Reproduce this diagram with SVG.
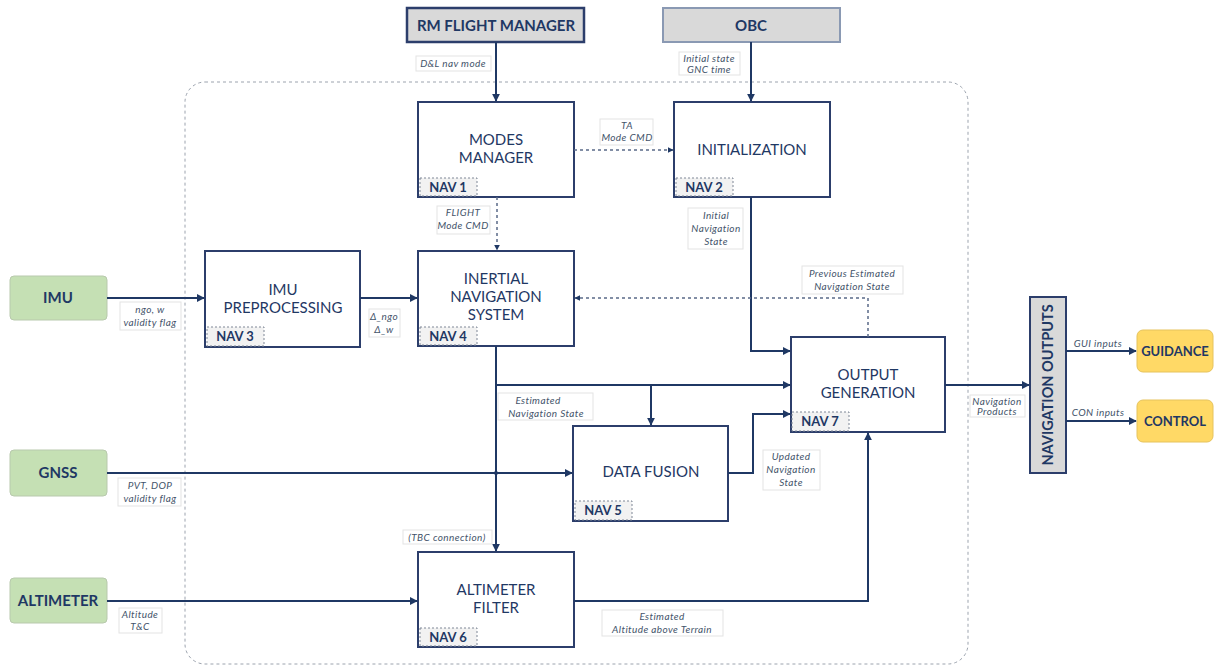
<svg xmlns="http://www.w3.org/2000/svg" width="1215" height="666" viewBox="0 0 1215 666">
  <defs>
    <marker id="arr" viewBox="0 0 10 10" refX="9" refY="5" markerWidth="4" markerHeight="4" orient="auto">
      <path d="M0,0 L10,5 L0,10 z" fill="#1f3864"/>
    </marker>
    <style>
      .blk { fill: #ffffff; stroke: #2c3e6b; stroke-width: 2; }
      .tag { fill: #f2f2f2; stroke: #7f8796; stroke-width: 1; stroke-dasharray: 2 2; }
      .ttl { font-family: Lato, "Open Sans", sans-serif; font-size: 15px; fill: #1f3864; text-anchor: middle; }
      .tagt { font-family: Lato, "Open Sans", sans-serif; font-size: 13px; font-weight: bold; fill: #1f3864; text-anchor: middle; }
      .ext { font-family: Lato, "Open Sans", sans-serif; font-size: 15px; font-weight: bold; fill: #1f3864; text-anchor: middle; }
      .ext-s { font-family: Lato, "Open Sans", sans-serif; font-size: 13px; font-weight: bold; fill: #1f3864; text-anchor: middle; }
      .lbl { font-family: Lato, "Open Sans", sans-serif; font-size: 10px; font-style: italic; fill: #44546a; text-anchor: middle; letter-spacing: 0.4px; }
      .lblbox { fill: #ffffff; stroke: #e3e3e3; stroke-width: 1; }
      .ln { fill: none; stroke: #1f3864; stroke-width: 2; }
      .dln { fill: none; stroke: #5a6a88; stroke-width: 1.5; stroke-dasharray: 3 3; }
    </style>
  </defs>

  <!-- navigation subsystem boundary -->
  <rect x="185" y="82" width="783" height="582" rx="20" fill="none" stroke="#9ca3ae" stroke-width="1" stroke-dasharray="3 3"/>

  <!-- external sources and sinks -->
  <g id="rm-flight-manager">
    <rect x="407" y="8" width="177" height="34" fill="#d9d9d9" stroke="#2c3e6b" stroke-width="2.5"/>
    <text class="ext" x="496" y="31">RM FLIGHT MANAGER</text>
  </g>
  <g id="obc">
    <rect x="663" y="8" width="177" height="34" fill="#d9d9d9" stroke="#8a99b3" stroke-width="2"/>
    <text class="ext" x="751" y="31">OBC</text>
  </g>
  <g id="imu">
    <rect x="10" y="276" width="97" height="44" rx="4" fill="#c5e0b4" stroke="#b8c9ad" stroke-width="1"/>
    <text class="ext" x="58" y="303">IMU</text>
  </g>
  <g id="gnss">
    <rect x="10" y="450" width="97" height="46" rx="4" fill="#c5e0b4" stroke="#b8c9ad" stroke-width="1"/>
    <text class="ext" x="58" y="478">GNSS</text>
  </g>
  <g id="altimeter">
    <rect x="10" y="578" width="97" height="45" rx="4" fill="#c5e0b4" stroke="#b8c9ad" stroke-width="1"/>
    <text class="ext" x="58" y="606">ALTIMETER</text>
  </g>
  <g id="guidance">
    <rect x="1137" y="330" width="76" height="42" rx="6" fill="#ffd966" stroke="#e6c35c" stroke-width="1"/>
    <text class="ext-s" x="1175" y="356">GUIDANCE</text>
  </g>
  <g id="control">
    <rect x="1137" y="400" width="76" height="42" rx="6" fill="#ffd966" stroke="#e6c35c" stroke-width="1"/>
    <text class="ext-s" x="1175" y="426">CONTROL</text>
  </g>
  <g id="navigation-outputs">
    <rect x="1030" y="297" width="36" height="176" fill="#d9d9d9" stroke="#2c3e6b" stroke-width="2"/>
    <text class="ext" style="font-size:14.5px" x="0" y="0" transform="translate(1053,385) rotate(-90)">NAVIGATION OUTPUTS</text>
  </g>

  <!-- NAV blocks -->
  <g id="nav1-modes-manager">
    <rect class="blk" x="418" y="102" width="156" height="95"/>
    <text class="ttl" x="496" y="145">MODES</text>
    <text class="ttl" x="496" y="163">MANAGER</text>
    <rect class="tag" x="420" y="178" width="57" height="18"/>
    <text class="tagt" x="448" y="192">NAV 1</text>
  </g>
  <g id="nav2-initialization">
    <rect class="blk" x="674" y="102" width="156" height="95"/>
    <text class="ttl" x="752" y="155">INITIALIZATION</text>
    <rect class="tag" x="676" y="178" width="57" height="18"/>
    <text class="tagt" x="704" y="192">NAV 2</text>
  </g>
  <g id="nav3-imu-preprocessing">
    <rect class="blk" x="205" y="251" width="155" height="96"/>
    <text class="ttl" x="283" y="295">IMU</text>
    <text class="ttl" x="283" y="313">PREPROCESSING</text>
    <rect class="tag" x="207" y="327" width="57" height="19"/>
    <text class="tagt" x="235" y="341">NAV 3</text>
  </g>
  <g id="nav4-inertial-navigation-system">
    <rect class="blk" x="418" y="251" width="156" height="95"/>
    <text class="ttl" x="496" y="284">INERTIAL</text>
    <text class="ttl" x="496" y="302">NAVIGATION</text>
    <text class="ttl" x="496" y="320">SYSTEM</text>
    <rect class="tag" x="420" y="327" width="57" height="18"/>
    <text class="tagt" x="448" y="341">NAV 4</text>
  </g>
  <g id="nav5-data-fusion">
    <rect class="blk" x="573" y="426" width="155" height="95"/>
    <text class="ttl" x="651" y="477">DATA FUSION</text>
    <rect class="tag" x="575" y="501" width="57" height="19"/>
    <text class="tagt" x="603" y="515">NAV 5</text>
  </g>
  <g id="nav6-altimeter-filter">
    <rect class="blk" x="418" y="552" width="156" height="95"/>
    <text class="ttl" x="496" y="595">ALTIMETER</text>
    <text class="ttl" x="496" y="613">FILTER</text>
    <rect class="tag" x="420" y="628" width="57" height="18"/>
    <text class="tagt" x="448" y="642">NAV 6</text>
  </g>
  <g id="nav7-output-generation">
    <rect class="blk" x="791" y="337" width="154" height="95"/>
    <text class="ttl" x="868" y="380">OUTPUT</text>
    <text class="ttl" x="868" y="398">GENERATION</text>
    <rect class="tag" x="792" y="412" width="57" height="19"/>
    <text class="tagt" x="820" y="426">NAV 7</text>
  </g>

  <!-- connectors -->
  <g id="connectors">
    <path class="ln" d="M496,42 V101" marker-end="url(#arr)"/>
    <path class="ln" d="M751,42 V101" marker-end="url(#arr)"/>
    <path class="dln" d="M574,150 H673" marker-end="url(#arr)"/>
    <path class="dln" d="M497,197 V250" marker-end="url(#arr)"/>
    <path class="ln" d="M751,197 V351 H790" marker-end="url(#arr)"/>
    <path class="ln" d="M107,298 H204" marker-end="url(#arr)"/>
    <path class="ln" d="M360,298 H417" marker-end="url(#arr)"/>
    <path class="dln" d="M868,337 V298 H575" marker-end="url(#arr)"/>
    <path class="ln" d="M496,346 V385 H790" marker-end="url(#arr)"/>
    <path class="ln" d="M651,385 V425" marker-end="url(#arr)"/>
    <path class="ln" d="M496,385 V551" marker-end="url(#arr)"/>
    <path class="ln" d="M107,473 H572" marker-end="url(#arr)"/>
    <circle cx="496" cy="473" r="2" fill="#1f3864"/>
    <path class="ln" d="M728,473 H753 V414 H790" marker-end="url(#arr)"/>
    <path class="ln" d="M107,601 H417" marker-end="url(#arr)"/>
    <path class="ln" d="M574,601 H868 V433" marker-end="url(#arr)"/>
    <path class="ln" d="M945,385 H1029" marker-end="url(#arr)"/>
    <path class="ln" d="M1066,351 H1136" marker-end="url(#arr)"/>
    <path class="ln" d="M1066,421 H1136" marker-end="url(#arr)"/>
  </g>

  <!-- connector labels -->
  <g id="labels">
    <rect class="lblbox" x="416" y="56" width="75" height="15"/>
    <text class="lbl" x="453" y="67">D&amp;L nav mode</text>

    <rect class="lblbox" x="679" y="52" width="61" height="23"/>
    <text class="lbl" x="709" y="62">Initial state</text>
    <text class="lbl" x="709" y="73">GNC time</text>

    <rect class="lblbox" x="600" y="119" width="53" height="26"/>
    <text class="lbl" x="627" y="129">TA</text>
    <text class="lbl" x="627" y="141">Mode CMD</text>

    <rect class="lblbox" x="437" y="206" width="53" height="28"/>
    <text class="lbl" x="463" y="216">FLIGHT</text>
    <text class="lbl" x="463" y="229">Mode CMD</text>

    <rect class="lblbox" x="688" y="208" width="55" height="41"/>
    <text class="lbl" x="716" y="219">Initial</text>
    <text class="lbl" x="716" y="232">Navigation</text>
    <text class="lbl" x="716" y="245">State</text>

    <rect class="lblbox" x="120" y="302" width="61" height="28"/>
    <text class="lbl" x="150" y="313">ngo, w</text>
    <text class="lbl" x="150" y="326">validity flag</text>

    <rect class="lblbox" x="369" y="309" width="31" height="28"/>
    <text class="lbl" x="384" y="320">Δ_ngo</text>
    <text class="lbl" x="384" y="333">Δ_w</text>

    <rect class="lblbox" x="802" y="266" width="101" height="28"/>
    <text class="lbl" x="852" y="277">Previous Estimated</text>
    <text class="lbl" x="852" y="290">Navigation State</text>

    <rect class="lblbox" x="498" y="393" width="95" height="27"/>
    <text class="lbl" x="538" y="404">Estimated</text>
    <text class="lbl" x="546" y="417">Navigation State</text>

    <rect class="lblbox" x="118" y="478" width="63" height="28"/>
    <text class="lbl" x="150" y="489">PVT, DOP</text>
    <text class="lbl" x="150" y="502">validity flag</text>

    <rect class="lblbox" x="763" y="450" width="57" height="40"/>
    <text class="lbl" x="791" y="460">Updated</text>
    <text class="lbl" x="791" y="473">Navigation</text>
    <text class="lbl" x="791" y="486">State</text>

    <rect class="lblbox" x="403" y="530" width="89" height="14"/>
    <text class="lbl" x="447" y="541">(TBC connection)</text>

    <rect class="lblbox" x="119" y="608" width="43" height="25"/>
    <text class="lbl" x="140" y="618">Altitude</text>
    <text class="lbl" x="140" y="630">T&amp;C</text>

    <rect class="lblbox" x="602" y="610" width="121" height="26"/>
    <text class="lbl" x="662" y="620">Estimated</text>
    <text class="lbl" x="662" y="633">Altitude above Terrain</text>

    <rect class="lblbox" x="970" y="395" width="55" height="22"/>
    <text class="lbl" x="997" y="405">Navigation</text>
    <text class="lbl" x="997" y="415">Products</text>

    <text class="lbl" x="1098" y="347">GUI inputs</text>
    <text class="lbl" x="1098" y="416">CON inputs</text>
  </g>
</svg>
